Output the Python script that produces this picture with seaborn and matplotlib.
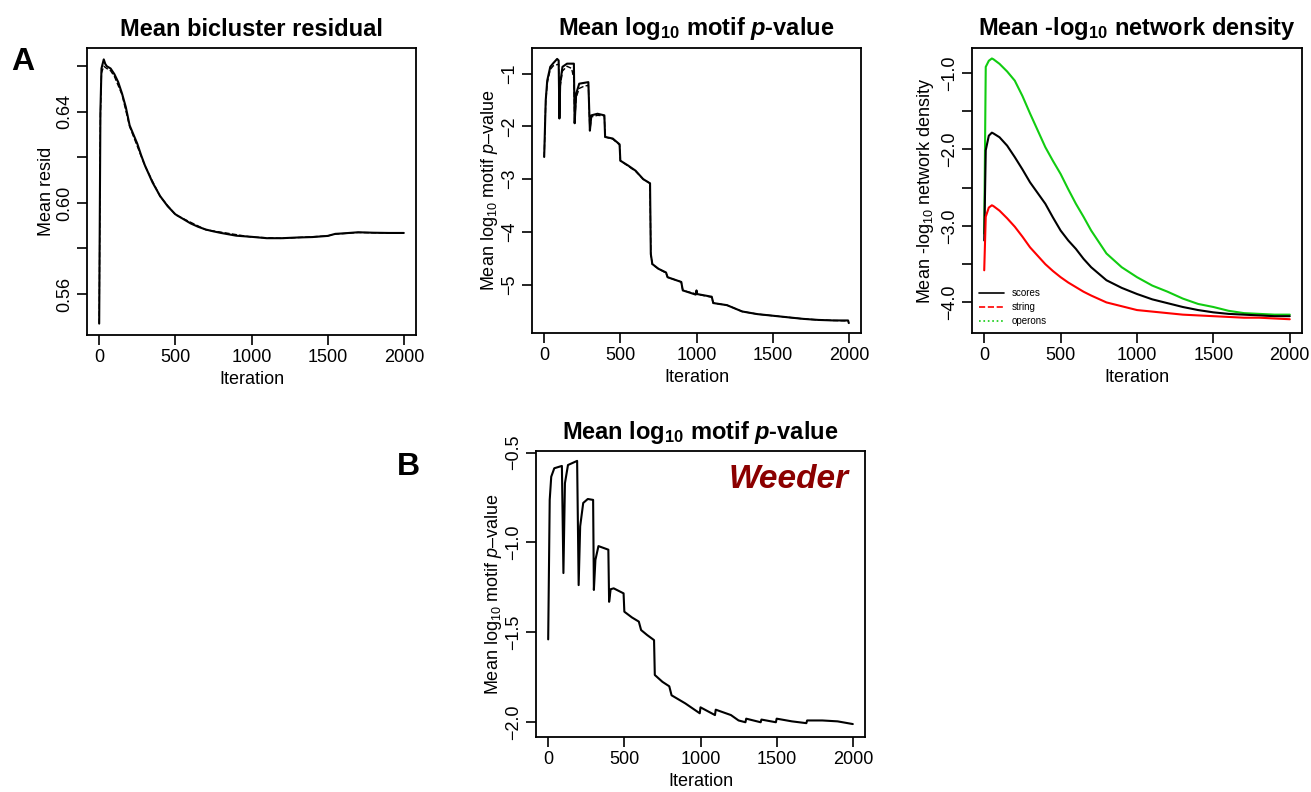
import numpy as np
import pandas as pd
import seaborn as sns
import matplotlib.pyplot as plt
from matplotlib.lines import Line2D

# --- datos ---
# A1: residuo medio del bicluster
iter_resid = [0, 8, 15, 30, 40, 50, 75, 100, 125, 150, 175, 200, 225, 250, 275, 300,
              350, 400, 450, 500, 550, 600, 650, 700, 750, 800, 900, 1000, 1100, 1200,
              1300, 1400, 1500, 1550, 1600, 1700, 1800, 1900, 2000]
resid = [0.547, 0.640, 0.659, 0.663, 0.661, 0.660, 0.659, 0.6565, 0.653, 0.648, 0.642,
         0.634, 0.630, 0.626, 0.621, 0.6165, 0.609, 0.603, 0.5985, 0.595, 0.593, 0.591,
         0.5895, 0.5883, 0.5875, 0.5868, 0.5856, 0.5851, 0.5845, 0.5845, 0.5848, 0.5850,
         0.5855, 0.5864, 0.5866, 0.5871, 0.5869, 0.5868, 0.5868]
iter_resid2 = [0, 8, 15, 30, 50, 75, 100, 150, 200, 300, 400, 500, 700, 1000, 1200,
               1500, 1550, 1700, 2000]
resid2 = [0.547, 0.638, 0.657, 0.660, 0.659, 0.658, 0.6555, 0.6475, 0.6335, 0.6163,
          0.6028, 0.5948, 0.5882, 0.5850, 0.5844, 0.5855, 0.5863, 0.5870, 0.5867]

# A2: log10 p-valor medio de motivos (MEME)
iter_motif = [0, 10, 20, 40, 60, 85, 95, 100, 105, 120, 150, 195, 200, 210, 230, 290,
              300, 310, 350, 395, 400, 450, 495, 500, 550, 600, 650, 695, 700, 710, 750,
              800, 810, 900, 910, 995, 1000, 1005, 1100, 1110, 1200, 1300, 1400, 1500,
              1600, 1700, 1800, 1900, 1995, 2000]
motif = [-2.58, -1.51, -1.13, -0.87, -0.80, -0.72, -0.75, -1.85, -1.19, -0.87, -0.81,
         -0.81, -1.94, -1.38, -1.19, -1.16, -2.08, -1.79, -1.76, -1.79, -2.20, -2.23,
         -2.34, -2.65, -2.74, -2.84, -3.00, -3.08, -4.42, -4.61, -4.70, -4.77, -4.86,
         -4.95, -5.11, -5.19, -5.11, -5.18, -5.23, -5.35, -5.39, -5.51, -5.56, -5.59,
         -5.62, -5.65, -5.67, -5.68, -5.68, -5.73]
iter_motif2 = [0, 10, 20, 40, 60, 95, 100, 105, 120, 150, 180, 195, 200, 210, 230, 260,
               290, 300, 310, 350, 395, 400, 450, 495, 500, 550, 600, 650, 695, 700,
               710, 750, 800, 810, 900, 910, 1000, 1100, 1110, 1200, 1300, 1400, 1500,
               1600, 1700, 1800, 1900, 2000]
motif2 = [-2.58, -1.55, -1.18, -0.92, -0.85, -0.82, -1.85, -1.25, -0.95, -0.86, -0.90,
          -1.10, -1.94, -1.45, -1.28, -1.24, -1.22, -2.08, -1.82, -1.79, -1.80, -2.20,
          -2.24, -2.35, -2.65, -2.75, -2.85, -3.00, -3.08, -4.42, -4.62, -4.70, -4.78,
          -4.86, -4.95, -5.11, -5.18, -5.24, -5.35, -5.39, -5.51, -5.56, -5.59, -5.62,
          -5.65, -5.67, -5.68, -5.69]

# A3: -log10 densidad de red
iter_net = [0, 10, 30, 50, 60, 100, 150, 200, 250, 300, 350, 400, 450, 500, 550, 600,
            650, 700, 800, 900, 1000, 1100, 1200, 1300, 1400, 1500, 1600, 1700, 1800,
            1900, 2000]
net_scores = [-3.19, -2.01, -1.82, -1.78, -1.79, -1.84, -1.95, -2.10, -2.26, -2.43,
              -2.57, -2.71, -2.89, -3.06, -3.19, -3.30, -3.43, -3.54, -3.71, -3.81,
              -3.89, -3.96, -4.01, -4.06, -4.10, -4.13, -4.15, -4.16, -4.17, -4.18, -4.18]
net_string = [-3.58, -2.88, -2.76, -2.73, -2.74, -2.80, -2.90, -3.01, -3.14, -3.28,
              -3.39, -3.50, -3.59, -3.67, -3.74, -3.80, -3.86, -3.91, -4.00, -4.05,
              -4.10, -4.12, -4.14, -4.16, -4.17, -4.18, -4.19, -4.20, -4.20, -4.21, -4.22]
net_operons = [-3.10, -0.92, -0.84, -0.81, -0.82, -0.88, -0.98, -1.10, -1.30, -1.53,
               -1.75, -1.97, -2.15, -2.32, -2.52, -2.71, -2.88, -3.06, -3.36, -3.54,
               -3.67, -3.78, -3.86, -3.95, -4.02, -4.06, -4.11, -4.14, -4.15, -4.16, -4.16]

# B: log10 p-valor medio de motivos (Weeder)
iter_weeder = [0, 10, 20, 40, 90, 100, 110, 130, 190, 200, 210, 230, 260, 295, 300, 310,
               330, 395, 400, 410, 430, 495, 500, 550, 595, 610, 650, 695, 700, 750, 795,
               810, 900, 995, 1000, 1095, 1100, 1200, 1250, 1295, 1300, 1395, 1400, 1495,
               1500, 1600, 1695, 1700, 1800, 1900, 2000]
weeder = [-1.539, -0.763, -0.634, -0.587, -0.574, -1.17, -0.67, -0.569, -0.546, -1.237,
          -0.91, -0.78, -0.758, -0.763, -1.264, -1.097, -1.02, -1.04, -1.33, -1.26, -1.255,
          -1.283, -1.385, -1.417, -1.44, -1.487, -1.515, -1.543, -1.737, -1.775, -1.80,
          -1.85, -1.895, -1.95, -1.917, -1.96, -1.93, -1.96, -1.99, -2.0, -1.98, -2.0,
          -1.985, -2.0, -1.98, -1.995, -2.005, -1.99, -1.99, -1.995, -2.01]

sns.set_style("ticks")
plt.rcParams['font.family'] = ['Liberation Sans', 'DejaVu Sans']
plt.rcParams['mathtext.fontset'] = 'custom'
plt.rcParams['mathtext.rm'] = 'Liberation Sans'
plt.rcParams['mathtext.it'] = 'Liberation Sans:italic'
plt.rcParams['mathtext.bf'] = 'Liberation Sans:bold'
plt.rcParams['mathtext.bfit'] = 'Liberation Sans:italic:bold'
for k in ['text.color', 'axes.labelcolor', 'xtick.color', 'ytick.color']:
    plt.rcParams[k] = 'black'

W, H = 1311, 792


def estilo_r(ax, titulo, ylab, yticks, ylabels, ylim):
    # ejes al estilo de R base: caja, ticks hacia fuera, etiquetas y giradas
    ax.set_xlim(-80, 2080)
    ax.set_ylim(*ylim)
    ax.set_xticks([0, 500, 1000, 1500, 2000])
    ax.set_yticks(yticks)
    ax.set_yticklabels(ylabels, rotation=90, va='center')
    ax.tick_params(direction='out', length=7, width=1.2, labelsize=13, pad=3, colors='black')
    for s in ax.spines.values():
        s.set_visible(True)
        s.set_linewidth(1.3)
        s.set_color('black')
    ax.set_title(titulo, fontsize=17, fontweight='bold', pad=9)
    ax.set_xlabel('Iteration', fontsize=13, labelpad=4)
    ax.set_ylabel(ylab, fontsize=13, labelpad=1)


fig = plt.figure(figsize=(W / 100, H / 100), dpi=100)

# A1
ax1 = fig.add_axes([87 / W, 1 - 335 / H, 329 / W, 287 / H])
sns.lineplot(x=iter_resid2, y=resid2, ax=ax1, color='black', lw=1.0, linestyle='--')
sns.lineplot(x=iter_resid, y=resid, ax=ax1, color='black', lw=1.5)
estilo_r(ax1, 'Mean bicluster residual', 'Mean resid',
         [0.56, 0.58, 0.60, 0.62, 0.64, 0.66], ['0.56', '', '0.60', '', '0.64', ''],
         (0.542, 0.668))

# A2
ax2 = fig.add_axes([532 / W, 1 - 333 / H, 329 / W, 285 / H])
sns.lineplot(x=iter_motif2, y=motif2, ax=ax2, color='black', lw=1.0, linestyle='--')
sns.lineplot(x=iter_motif, y=motif, ax=ax2, color='black', lw=1.5)
estilo_r(ax2, r'Mean log$_{\mathbf{10}}$ motif $\mathbfit{p}$-value',
         r'Mean log$_{10}$ motif $p$–value',
         [-1, -2, -3, -4, -5], ['−1', '−2', '−3', '−4', '−5'], (-5.918, -0.513))

# A3
ax3 = fig.add_axes([972 / W, 1 - 333 / H, 330 / W, 285 / H])
sns.lineplot(x=iter_net, y=net_operons, ax=ax3, color='#11CC11', lw=1.5)
sns.lineplot(x=iter_net, y=net_scores, ax=ax3, color='black', lw=1.5)
sns.lineplot(x=iter_net, y=net_string, ax=ax3, color='red', lw=1.5)
estilo_r(ax3, r'Mean -log$_{\mathbf{10}}$ network density',
         r'Mean -log$_{10}$ network density',
         [-1.0, -1.5, -2.0, -2.5, -3.0, -3.5, -4.0],
         ['−1.0', '', '−2.0', '', '−3.0', '', '−4.0'], (-4.40, -0.673))
ax3.yaxis.labelpad = 4
handles = [Line2D([], [], color='black', lw=1.2),
           Line2D([], [], color='red', lw=1.2, linestyle='--'),
           Line2D([], [], color='#11CC11', lw=1.2, linestyle=':')]
ax3.legend(handles, ['scores', 'string', 'operons'], loc='lower left', frameon=False,
           fontsize=7, handlelength=2.6, borderaxespad=0.3, labelspacing=0.4)

# B
ax4 = fig.add_axes([536 / W, 1 - 737 / H, 329 / W, 286 / H])
sns.lineplot(x=iter_weeder, y=weeder, ax=ax4, color='black', lw=1.5)
estilo_r(ax4, r'Mean log$_{\mathbf{10}}$ motif $\mathbfit{p}$-value',
         r'Mean log$_{10}$ motif $p$–value',
         [-0.5, -1.0, -1.5, -2.0], ['−0.5', '−1.0', '−1.5', '−2.0'], (-2.082, -0.491))
ax4.text(0.95, 0.90, 'Weeder', transform=ax4.transAxes, ha='right', va='center',
         fontsize=24, fontweight='bold', fontstyle='italic', color='#8B0000')

fig.text(23 / W, 1 - 62 / H, 'A', fontsize=23, fontweight='bold', ha='center', va='center')
fig.text(408 / W, 1 - 467 / H, 'B', fontsize=23, fontweight='bold', ha='center', va='center')

fig.savefig('out.png', dpi=100)
